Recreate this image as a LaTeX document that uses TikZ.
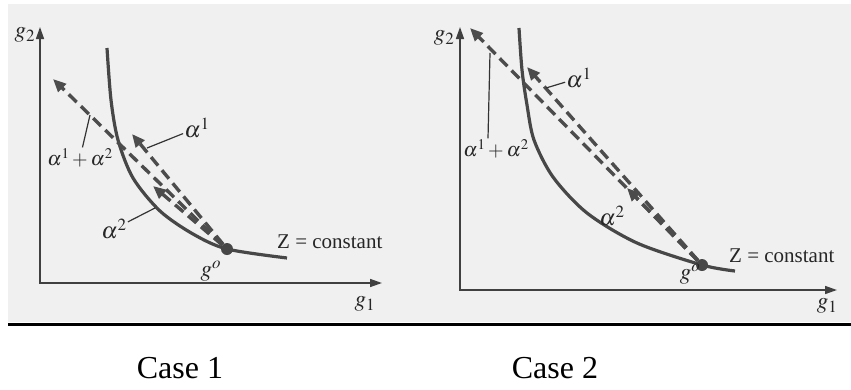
\documentclass[tikz,border=0pt]{standalone}
\usepackage{mathptmx}
\usepackage{fontspec}
\setmainfont{Liberation Serif}
\usetikzlibrary{arrows.meta}
\tikzset{
      axis/.style    = {line width=1.5pt, draw=black!75,
                        {Triangle[length=12pt,width=8pt]}-{Triangle[length=12pt,width=8pt]}},
      curve/.style   = {line width=3.2pt, draw=black!72},
      vec/.style     = {line width=3.4pt, draw=black!70, dash pattern=on 11pt off 6pt,
                        -{Triangle[length=13pt,width=11pt]}},
      leader/.style  = {line width=1.2pt, draw=black!80},
      dot/.style     = {circle, fill=black!72, inner sep=0pt, minimum size=12pt},
      lbl/.style     = {font=\fontsize{23}{25}\selectfont, text=black!85, inner sep=1pt},
      sumlbl/.style  = {lbl, font=\fontsize{20}{22}\selectfont},
      ztext/.style   = {font=\fontsize{21}{23}\selectfont, text=black!85, anchor=west, inner sep=1pt},
      casetext/.style= {font=\fontsize{32}{34}\selectfont, anchor=base}
    }

\begin{document}
\begin{tikzpicture}[x=1pt,y=-1pt]
  \useasboundingbox (0,0) rectangle (851,389);
  % Scanned page
  \fill[black!6] (8,4) rectangle (851,322);
  % Divider
  \draw[line width=3pt] (8,324) -- (851,324);

  % ---- Case 1 ----
  % Axes
  \coordinate (ytop1) at (40,27);
  \coordinate (xend1) at (382,283);
  \draw[axis] (ytop1) |- (xend1);
  \node[lbl] (g2a) at (25,35) {$g_2$};
  \node[lbl] (g1a) at (365,304) {$g_1$};
  % Z curve and point
  \node[dot] (g0a) at (227,249) {};
  \draw[curve] plot[smooth] coordinates {(107,48) (111,100) (118,140) (133,178)
                                         (160,211) (193,234) (g0a.center) (287,258)};
  % Vectors
  \coordinate (s1) at (53,79);
  \coordinate (a1) at (132,134);
  \coordinate (a2) at (153,186);
  \draw[vec] (g0a) -- (s1);
  \draw[vec] (g0a) -- (a1);
  \draw[vec] (g0a) -- (a2);
  % Labels
  \node[lbl] (la1) at (197,128) {$\alpha^1$};
  \coordinate (p1) at (147,148);
  \draw[leader] (la1) -- (p1);
  \node[sumlbl] (ls1) at (80,158) {$\alpha^1 + \alpha^2$};
  \coordinate (q1) at (90,115);
  \draw[leader] (ls1) -- (q1);
  \node[lbl] (la2) at (114,229) {$\alpha^2$};
  \coordinate (r1) at (155,208);
  \draw[leader] (la2) -- (r1);
  \node[lbl] (g0la) at (211,271) {$g^o$};
  \node[ztext] (za) at (276,242) {Z = constant};

  % ---- Case 2 ----
  % Axes
  \coordinate (ytop2) at (460,27);
  \coordinate (xend2) at (837,290);
  \draw[axis] (ytop2) |- (xend2);
  \node[lbl] (g2b) at (444,38) {$g_2$};
  \node[lbl] (g1b) at (827,306) {$g_1$};
  % Z curve and point
  \node[dot] (g0b) at (702,265) {};
  \draw[curve] plot[smooth] coordinates {(519,28) (522,70) (527,105) (534,140)
                                         (553,177) (587,213) (637,243) (g0b.center) (735,271)};
  % Vectors
  \coordinate (s2) at (470,28);
  \coordinate (b1) at (527,67);
  \coordinate (b2) at (627,188);
  \draw[vec] (g0b) -- (s2);
  \draw[vec] (g0b) -- (b1);
  \draw[vec] (g0b) -- (b2);
  % Labels
  \node[lbl] (lb1) at (579,78) {$\alpha^1$};
  \coordinate (p2) at (546,88);
  \draw[leader] (lb1) -- (p2);
  \node[sumlbl] (ls2) at (496,149) {$\alpha^1 + \alpha^2$};
  \coordinate (q2) at (490,53);
  \draw[leader] ([xshift=-8pt]ls2.north) -- (q2);
  \node[lbl] (lb2) at (612,216) {$\alpha^2$};
  \node[lbl] (g0lb) at (690,274) {$g^o$};
  \node[ztext] (zb) at (728,256) {Z = constant};

  % Case titles
  \node[casetext] (c1) at (180,378) {Case 1};
  \node[casetext] (c2) at (555,378) {Case 2};
\end{tikzpicture}
\end{document}
